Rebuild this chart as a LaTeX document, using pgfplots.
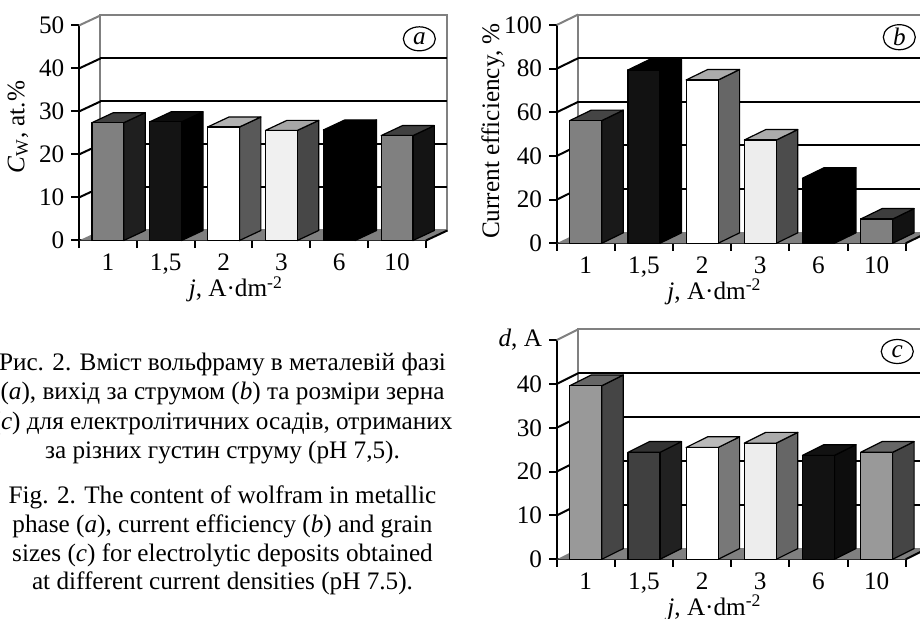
\documentclass[border=0pt]{standalone}
\usepackage{fontspec}
\setmainfont{Liberation Serif}
\usepackage{pgfplots}
\pgfplotsset{compat=1.18}
\usetikzlibrary{shapes.geometric}

\newcommand\HW{0.275}
\newcommand\fs{\fontsize{12.6}{14.65}\selectfont}
% #1 centre, #2 value, #3 depth dx, #4 depth dy, #5 front, #6 side, #7 top
\newcommand\tdbar[7]{%
 \pgfmathsetmacro\xa{#1-\HW}%
 \pgfmathsetmacro\xb{#1+\HW}%
 \pgfmathsetmacro\xc{#1+\HW+#3}%
 \pgfmathsetmacro\xd{#1-\HW+#3}%
 \pgfmathsetmacro\ya{#2+#4}%
 \edef\tmp{%
  \noexpand\addplot[fill=#6,draw=black,line width=0.6pt,line join=round] coordinates {(\xb,0) (\xc,#4) (\xc,\ya) (\xb,#2)} -- cycle;
  \noexpand\addplot[fill=#7,draw=black,line width=0.6pt,line join=round] coordinates {(\xa,#2) (\xb,#2) (\xc,\ya) (\xd,\ya)} -- cycle;
  \noexpand\addplot[fill=#5,draw=black,line width=0.6pt,line join=round] coordinates {(\xa,0) (\xb,0) (\xb,#2) (\xa,#2)} -- cycle;
 }\tmp}

\tikzset{circ/.style={draw, ellipse, minimum width=16pt, minimum height=12pt, inner sep=0pt, line width=0.6pt, font=\itshape\fs}}

\pgfplotsset{
 tdaxis/.style={
  scale only axis, clip=false,
  xmin=0, xmax=6, ymin=0,
  axis x line=bottom, axis y line=left,
  axis line style={-, line width=1pt, black},
  xtick={0,1,...,6}, xticklabels={},
  extra x ticks={0.5,1.5,2.5,3.5,4.5,5.5},
  extra x tick labels={1,{1,5},2,3,6,10},
  extra x tick style={major tick length=0pt, tick style={draw=none}},
  tick style={line width=1pt, black},
  tick align=outside,
  major tick length=3.8pt,
  tick label style={font=\fs},
  /pgf/number format/assume math mode=true,
  label style={font=\fs},
  xlabel={\textit{j}, A·dm\textsuperscript{-2}},
  xlabel style={at={(axis description cs:0.452,0)}, anchor=base, yshift=-28.2pt},
  xticklabel style={anchor=base, yshift=-15.2pt},
 },
 wl/.style={draw=black, line width=1pt},
 wg/.style={draw=black!50, line width=1pt},
}

\begin{document}
\begin{tikzpicture}
\useasboundingbox (0,0) rectangle (460pt,309.5pt);
\clip (0,0) rectangle (460pt,309.5pt);

% ---------------- panel a ----------------
\begin{axis}[tdaxis, at={(39.5pt,189.25pt)}, anchor=south west,
  width=173.5pt, height=107.5pt, ymax=50, ytick={0,10,...,50},
  ylabel={\textit{C}\textsubscript{W}, at.\%},
  ylabel style={at={(axis description cs:-0.176,0.527)}, anchor=center}]
 \addplot[fill=white, wg] coordinates {(0.37,2.33) (6.37,2.33) (6.37,52.33) (0.37,52.33)} -- cycle;
 \addplot[fill=black!50, draw=none] coordinates {(0,0) (6,0) (6.37,2.33) (0.37,2.33)} -- cycle;
 \addplot[wl] coordinates {(6,0) (6.37,2.33)};
 \addplot[wl] coordinates {(0.37,12.33) (6.37,12.33)};
 \addplot[wl] coordinates {(0.37,22.33) (6.37,22.33)};
 \addplot[wl] coordinates {(0.37,32.33) (6.37,32.33)};
 \addplot[wl] coordinates {(0.37,42.33) (6.37,42.33)};
 \addplot[wl] coordinates {(0,10) (0.37,12.33)};
 \addplot[wl] coordinates {(0,20) (0.37,22.33)};
 \addplot[wl] coordinates {(0,30) (0.37,32.33)};
 \addplot[wl] coordinates {(0,40) (0.37,42.33)};
 \addplot[wg] coordinates {(0,50) (0.37,52.33)};
 \tdbar{0.5}{27.4}{0.37}{2.33}{black!50}{black!88}{black!75}
 \tdbar{1.5}{27.6}{0.37}{2.33}{black!92}{black}{black!95}
 \tdbar{2.5}{26.4}{0.37}{2.33}{white}{black!65}{black!30}
 \tdbar{3.5}{25.6}{0.37}{2.33}{black!6}{black!72}{black!35}
 \tdbar{4.5}{25.7}{0.37}{2.33}{black}{black}{black}
 \tdbar{5.5}{24.4}{0.37}{2.33}{black!50}{black!92}{black!75}
 \node[circ] at (axis cs:5.885,46.9) {a};
\end{axis}

% ---------------- panel b ----------------
\begin{axis}[tdaxis, at={(278.35pt,187.85pt)}, anchor=south west,
  width=174.5pt, height=109.15pt, ymax=100, ytick={0,20,...,100},
  ylabel={Current efficiency, \%},
  ylabel style={at={(axis description cs:-0.1825,0.514)}, anchor=center}]
 \addplot[fill=white, wg] coordinates {(0.37,4.8) (6.37,4.8) (6.37,104.8) (0.37,104.8)} -- cycle;
 \addplot[fill=black!50, draw=none] coordinates {(0,0) (6,0) (6.37,4.8) (0.37,4.8)} -- cycle;
 \addplot[wl] coordinates {(6,0) (6.37,4.8)};
 \addplot[wl] coordinates {(0.37,24.8) (6.37,24.8)};
 \addplot[wl] coordinates {(0.37,44.8) (6.37,44.8)};
 \addplot[wl] coordinates {(0.37,64.8) (6.37,64.8)};
 \addplot[wl] coordinates {(0.37,84.8) (6.37,84.8)};
 \addplot[wl] coordinates {(0,20) (0.37,24.8)};
 \addplot[wl] coordinates {(0,40) (0.37,44.8)};
 \addplot[wl] coordinates {(0,60) (0.37,64.8)};
 \addplot[wl] coordinates {(0,80) (0.37,84.8)};
 \addplot[wg] coordinates {(0,100) (0.37,104.8)};
 \tdbar{0.5}{56.2}{0.37}{4.8}{black!50}{black!90}{black!73}
 \tdbar{1.5}{79.4}{0.37}{4.8}{black!93}{black}{black}
 \tdbar{2.5}{74.8}{0.37}{4.8}{white}{black!60}{black!33}
 \tdbar{3.5}{47.3}{0.37}{4.8}{black!7}{black!70}{black!33}
 \tdbar{4.5}{29.8}{0.37}{4.8}{black}{black}{black}
 \tdbar{5.5}{11.1}{0.37}{4.8}{black!50}{black!93}{black!76}
 \node[circ] at (axis cs:5.89,94.4) {b};
\end{axis}

% ---------------- panel c ----------------
\begin{axis}[tdaxis, at={(278.35pt,29.85pt)}, anchor=south west,
  width=174.5pt, height=109.6pt, ymax=50, ytick={0,10,...,50},
  yticklabels={0,10,20,30,40,{\textit{d}, A}}]
 \addplot[fill=white, wg] coordinates {(0.37,2.45) (6.37,2.45) (6.37,52.45) (0.37,52.45)} -- cycle;
 \addplot[fill=black!50, draw=none] coordinates {(0,0) (6,0) (6.37,2.45) (0.37,2.45)} -- cycle;
 \addplot[wl] coordinates {(6,0) (6.37,2.45)};
 \addplot[wl] coordinates {(0.37,12.45) (6.37,12.45)};
 \addplot[wl] coordinates {(0.37,22.45) (6.37,22.45)};
 \addplot[wl] coordinates {(0.37,32.45) (6.37,32.45)};
 \addplot[wl] coordinates {(0.37,42.45) (6.37,42.45)};
 \addplot[wl] coordinates {(0,10) (0.37,12.45)};
 \addplot[wl] coordinates {(0,20) (0.37,22.45)};
 \addplot[wl] coordinates {(0,30) (0.37,32.45)};
 \addplot[wl] coordinates {(0,40) (0.37,42.45)};
 \addplot[wg] coordinates {(0,50) (0.37,52.45)};
 \tdbar{0.5}{39.6}{0.37}{2.45}{black!40}{black!73}{black!60}
 \tdbar{1.5}{24.4}{0.37}{2.45}{black!75}{black!87}{black!80}
 \tdbar{2.5}{25.5}{0.37}{2.45}{white}{black!53}{black!27}
 \tdbar{3.5}{26.5}{0.37}{2.45}{black!7}{black!60}{black!33}
 \tdbar{4.5}{23.7}{0.37}{2.45}{black!93}{black!95}{black!93}
 \tdbar{5.5}{24.4}{0.37}{2.45}{black!40}{black!73}{black!60}
 \node[circ] at (axis cs:5.855,47.4) {c};
\end{axis}

% ---------------- caption ----------------
\begin{scope}[every node/.style={anchor=base, inner sep=0pt, font=\fs}]
\node at (111.25pt,124.15pt) {Рис. 2. Вміст вольфраму в металевій фазі};
\node at (111.25pt,109.5pt) {(\textit{a}), вихід за струмом (\textit{b}) та розміри зерна};
\node at (111.25pt,94.85pt) {(\textit{c}) для електролітичних осадів, отриманих};
\node at (111.25pt,80.35pt) {за різних густин струму (pH 7,5).};
\node at (111.25pt,57.85pt) {Fig. 2. The content of wolfram in metallic};
\node at (111.25pt,43.15pt) {phase (\textit{a}), current efficiency (\textit{b}) and grain};
\node at (111.25pt,28.65pt) {sizes (\textit{c}) for electrolytic deposits obtained};
\node at (111.25pt,14.5pt) {at different current densities (pH 7.5).};
\end{scope}
\end{tikzpicture}
\end{document}
